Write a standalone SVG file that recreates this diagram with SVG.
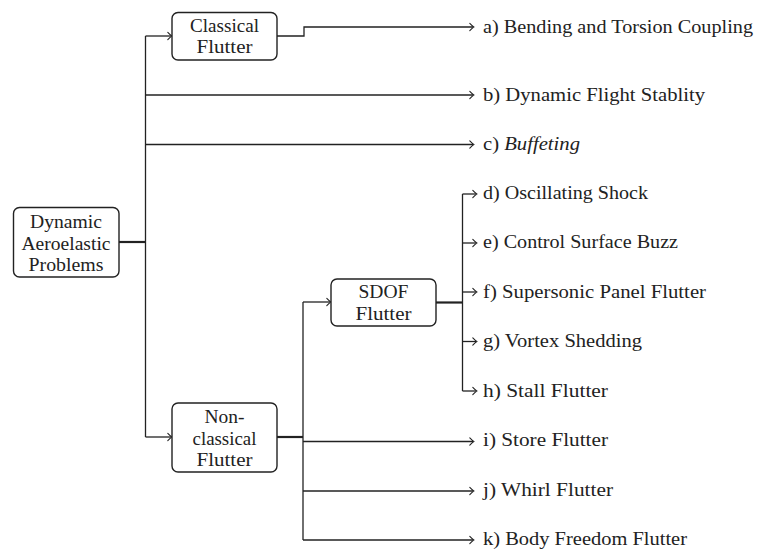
<svg xmlns="http://www.w3.org/2000/svg" width="757" height="549" viewBox="0 0 757 549">
<defs>
<marker id="ah" markerWidth="10" markerHeight="10" refX="0" refY="0" viewBox="-5 -5 10 10" markerUnits="userSpaceOnUse" orient="auto" overflow="visible">
<path d="M-3.2,-3.6 Q-0.6,-0.9 0.8,0 Q-0.6,0.9 -3.2,3.6" fill="none" stroke="#222" stroke-width="1.1" stroke-linecap="round"/>
</marker>
</defs>
<g id="connectors" fill="none" stroke="#222" stroke-width="1.3">
<path stroke-width="2.2" d="M119,242 H145.5"/>
<path d="M145.5,36 V437"/>
<path marker-end="url(#ah)" d="M145.5,36 H171"/>
<path marker-end="url(#ah)" d="M145.5,95 H473"/>
<path marker-end="url(#ah)" d="M145.5,144.5 H473"/>
<path marker-end="url(#ah)" d="M145.5,437 H171"/>
<path marker-end="url(#ah)" d="M277,36 H304 V27 H473"/>
<path stroke-width="2.2" d="M277,437 H303"/>
<path d="M303,302 V540"/>
<path marker-end="url(#ah)" d="M303,302 H330"/>
<path marker-end="url(#ah)" d="M303,441.5 H473"/>
<path marker-end="url(#ah)" d="M303,491 H473"/>
<path marker-end="url(#ah)" d="M303,540 H473"/>
<path stroke-width="2.2" d="M436,302.5 H462.5"/>
<path d="M462.5,194 V391"/>
<path marker-end="url(#ah)" d="M462.5,194 H476"/>
<path marker-end="url(#ah)" d="M462.5,243 H476"/>
<path marker-end="url(#ah)" d="M462.5,292 H476"/>
<path marker-end="url(#ah)" d="M462.5,341.5 H476"/>
<path marker-end="url(#ah)" d="M462.5,391 H476"/>
</g>
<g id="dynamic">
<rect x="13.5" y="207.5" width="105.5" height="69.5" rx="6" fill="#fff" stroke="#222" stroke-width="1.4"/>
<text font-family="Liberation Serif" font-size="18" fill="#222" text-anchor="middle" x="66" y="228" textLength="72" lengthAdjust="spacingAndGlyphs">Dynamic</text>
<text font-family="Liberation Serif" font-size="18" fill="#222" text-anchor="middle" x="66" y="250" textLength="89" lengthAdjust="spacingAndGlyphs">Aeroelastic</text>
<text font-family="Liberation Serif" font-size="18" fill="#222" text-anchor="middle" x="66" y="271" textLength="75" lengthAdjust="spacingAndGlyphs">Problems</text>
</g>
<g id="classical">
<rect x="172" y="12.5" width="105" height="47.5" rx="6" fill="#fff" stroke="#222" stroke-width="1.4"/>
<text font-family="Liberation Serif" font-size="18" fill="#222" text-anchor="middle" x="224.5" y="32" textLength="69" lengthAdjust="spacingAndGlyphs">Classical</text>
<text font-family="Liberation Serif" font-size="18" fill="#222" text-anchor="middle" x="224.5" y="53" textLength="56" lengthAdjust="spacingAndGlyphs">Flutter</text>
</g>
<g id="nonclassical">
<rect x="172" y="403" width="105" height="69" rx="6" fill="#fff" stroke="#222" stroke-width="1.4"/>
<text font-family="Liberation Serif" font-size="18" fill="#222" text-anchor="middle" x="224.5" y="423" textLength="40" lengthAdjust="spacingAndGlyphs">Non-</text>
<text font-family="Liberation Serif" font-size="18" fill="#222" text-anchor="middle" x="224.5" y="444.5" textLength="64" lengthAdjust="spacingAndGlyphs">classical</text>
<text font-family="Liberation Serif" font-size="18" fill="#222" text-anchor="middle" x="224.5" y="466" textLength="56" lengthAdjust="spacingAndGlyphs">Flutter</text>
</g>
<g id="sdof">
<rect x="331" y="279" width="105" height="47" rx="6" fill="#fff" stroke="#222" stroke-width="1.4"/>
<text font-family="Liberation Serif" font-size="18" fill="#222" text-anchor="middle" x="383.5" y="298" textLength="50" lengthAdjust="spacingAndGlyphs">SDOF</text>
<text font-family="Liberation Serif" font-size="18" fill="#222" text-anchor="middle" x="383.5" y="320" textLength="56" lengthAdjust="spacingAndGlyphs">Flutter</text>
</g>
<g id="leaf-a"><text font-family="Liberation Serif" font-size="18" fill="#222" x="483" y="33" textLength="270" lengthAdjust="spacingAndGlyphs">a) Bending and Torsion Coupling</text></g>
<g id="leaf-b"><text font-family="Liberation Serif" font-size="18" fill="#222" x="483" y="101" textLength="222" lengthAdjust="spacingAndGlyphs">b) Dynamic Flight Stablity</text></g>
<g id="leaf-c"><text font-family="Liberation Serif" font-size="18" fill="#222" x="483" y="149.5" textLength="97" lengthAdjust="spacingAndGlyphs">c) <tspan font-style="italic">Buffeting</tspan></text></g>
<g id="leaf-d"><text font-family="Liberation Serif" font-size="18" fill="#222" x="483" y="199" textLength="165" lengthAdjust="spacingAndGlyphs">d) Oscillating Shock</text></g>
<g id="leaf-e"><text font-family="Liberation Serif" font-size="18" fill="#222" x="483" y="248" textLength="195" lengthAdjust="spacingAndGlyphs">e) Control Surface Buzz</text></g>
<g id="leaf-f"><text font-family="Liberation Serif" font-size="18" fill="#222" x="483" y="297.5" textLength="223" lengthAdjust="spacingAndGlyphs">f) Supersonic Panel Flutter</text></g>
<g id="leaf-g"><text font-family="Liberation Serif" font-size="18" fill="#222" x="483" y="346.5" textLength="159" lengthAdjust="spacingAndGlyphs">g) Vortex Shedding</text></g>
<g id="leaf-h"><text font-family="Liberation Serif" font-size="18" fill="#222" x="483" y="396.5" textLength="125" lengthAdjust="spacingAndGlyphs">h) Stall Flutter</text></g>
<g id="leaf-i"><text font-family="Liberation Serif" font-size="18" fill="#222" x="483" y="446" textLength="125" lengthAdjust="spacingAndGlyphs">i) Store Flutter</text></g>
<g id="leaf-j"><text font-family="Liberation Serif" font-size="18" fill="#222" x="483" y="495.5" textLength="130" lengthAdjust="spacingAndGlyphs">j) Whirl Flutter</text></g>
<g id="leaf-k"><text font-family="Liberation Serif" font-size="18" fill="#222" x="483" y="545" textLength="204" lengthAdjust="spacingAndGlyphs">k) Body Freedom Flutter</text></g>
</svg>
